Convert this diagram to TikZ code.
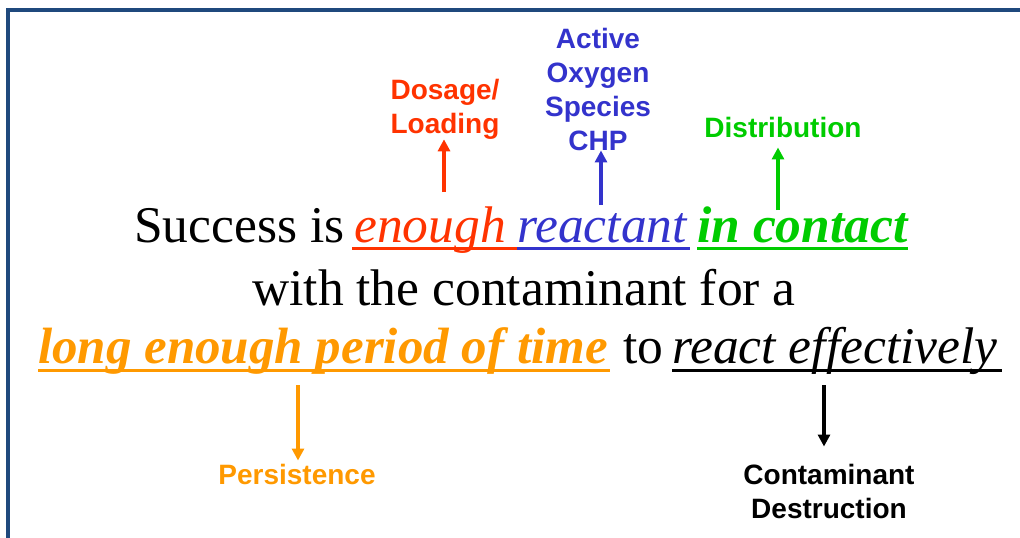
\documentclass[tikz,border=0pt]{standalone}
\usepackage{fontspec}
\setmainfont{Liberation Serif}
\newfontfamily\lsans{Liberation Sans}
\usetikzlibrary{arrows.meta}
\definecolor{cred}{RGB}{255,51,0}
\definecolor{cblue}{RGB}{51,51,204}
\definecolor{cgreen}{RGB}{0,204,0}
\definecolor{corange}{RGB}{255,153,0}
\definecolor{cborder}{RGB}{31,73,125}
\begin{document}
\begin{tikzpicture}[x=1pt,y=-1pt,
  maintext/.style={anchor=base west, inner sep=0pt, font=\fontsize{51.5}{60}\selectfont},
  lbl/.style={font=\lsans\bfseries\fontsize{28}{34}\selectfont, align=center, inner sep=0pt},
  arr/.style={line width=3.5pt, -{Triangle[length=12pt,width=12pt]}},
  ul/.style={line width=3pt}]
\useasboundingbox (0,0) rectangle (1020,538);
% border
\draw[cborder, line width=3.5pt] (8,538) -- (8,10) -- (1020,10);
% line 1
\node[maintext] (l1a) at (134,242) {Success is};
\node[maintext, text=cred] (l1b) at (354,242) {\itshape enough};
\node[maintext, text=cblue] (l1c) at (517,242) {\itshape reactant};
\node[maintext, text=cgreen] (l1d) at (697,242) {\bfseries\itshape in contact};
% line 2
\node[maintext] (l2) at (252,305) {with the contaminant for a};
% line 3
\node[maintext, text=corange, font=\fontsize{51}{60}\selectfont] (l3a) at (38,363) {\bfseries\itshape long enough period of time};
\node[maintext] (l3b) at (623,363) {to};
\node[maintext] (l3c) at (672,363) {\itshape react effectively};
% underlines
\draw[ul, cred] ([xshift=-2pt,yshift=-6pt]l1b.base west) -- ([yshift=-6pt]l1c.base west);
\draw[ul, cblue] ([yshift=-6pt]l1c.base west) -- ([xshift=3pt,yshift=-6pt]l1c.base east);
\draw[ul, cgreen] ([yshift=-6pt]l1d.base west) -- ([yshift=-6pt]l1d.base east);
\draw[ul, corange] ([yshift=-7.5pt]l3a.base west) -- ([xshift=2pt,yshift=-7.5pt]l3a.base east);
\draw[ul, black] ([yshift=-7.5pt]l3c.base west) -- ([xshift=4pt,yshift=-7.5pt]l3c.base east);
% labels
\node[lbl, text=cred] (dos) at (445,109) {Dosage/\\Loading};
\node[lbl, text=cblue] (aos) at (598,89) {Active\\Oxygen\\Species\\CHP};
\node[lbl, text=cgreen] (dis) at (783,127) {Distribution};
\node[lbl, text=corange] (per) at (297,474) {Persistence};
\node[lbl, text=black] (des) at (829,491) {Contaminant\\Destruction};
% arrow tails
\coordinate (t1) at (444,192);
\coordinate (t2) at (601,205);
\coordinate (t3) at (778,210);
\coordinate (t4) at (298,385);
\coordinate (t5) at (824,385);
\draw[arr, cred] (t1) -- (t1 |- dos.south);
\draw[arr, cblue] (t2) -- (t2 |- aos.south);
\draw[arr, cgreen, shorten >=10pt] (t3) -- (t3 |- dis.south);
\draw[arr, corange, shorten >=3pt] (t4) -- (t4 |- per.north);
\draw[arr, black, shorten >=17pt] (t5) -- (t5 |- des.north);
\end{tikzpicture}
\end{document}
